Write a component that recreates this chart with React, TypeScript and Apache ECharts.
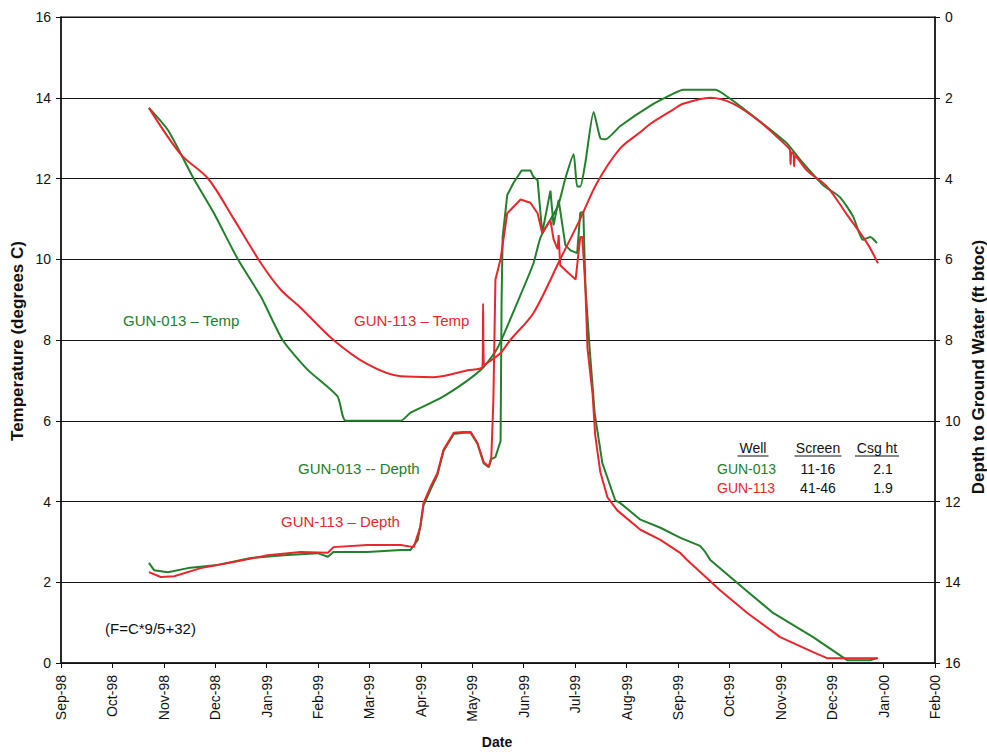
import React, { useEffect, useRef } from "react";
import * as echarts from "echarts";

// Month tick labels (x = month index from Sep-98)
const monthLabels = [
  "Sep-98", "Oct-98", "Nov-98", "Dec-98", "Jan-99", "Feb-99", "Mar-99", "Apr-99", "May-99",
  "Jun-99", "Jul-99", "Aug-99", "Sep-99", "Oct-99", "Nov-99", "Dec-99", "Jan-00", "Feb-00",
];

// [month index, temperature degC]
const gun013Temp = [
  [1.71, 13.75], [2.08, 13.2], [2.58, 12.0], [2.97, 11.15], [3.44, 10.0], [3.89, 9.07], [4.31, 8.0],
  [4.8, 7.26], [5.38, 6.6], [5.54, 6.0], [6.61, 6.0], [6.8, 6.2], [7.38, 6.56], [7.91, 7.0],
  [8.22, 7.33], [8.49, 7.8], [8.9, 9.0], [9.19, 9.9], [9.33, 10.55], [9.66, 11.3], [9.81, 12.0],
  [9.97, 12.6], [10.04, 11.8], [10.1, 11.8], [10.2, 12.4], [10.36, 13.65], [10.49, 13.0],
  [10.59, 12.97], [10.88, 13.3], [11.46, 13.8], [11.91, 14.1], [12.1, 14.2], [12.73, 14.2],
  [12.88, 14.1], [13.15, 13.85], [13.74, 13.27], [14.12, 12.87], [14.38, 12.46], [14.82, 11.84],
  [15.15, 11.54], [15.41, 11.05], [15.6, 10.48], [15.74, 10.55], [15.87, 10.4],
];

const gun113Temp = [
  [1.71, 13.75], [2.33, 12.6], [2.86, 12.0], [3.36, 11.0], [3.89, 9.9], [4.27, 9.25], [4.66, 8.8],
  [5.3, 8.0], [5.96, 7.4], [6.61, 7.1], [7.25, 7.08], [7.91, 7.25], [8.2, 7.35], [8.21, 8.9],
  [8.23, 7.38], [8.55, 7.68], [8.74, 8.0], [9.19, 8.67], [9.71, 10.0], [10.1, 11.0], [10.43, 11.9],
  [10.88, 12.75], [11.27, 13.15], [11.46, 13.35], [11.9, 13.7], [12.1, 13.85], [12.63, 14.0],
  [13.08, 13.85], [13.6, 13.4], [14.12, 12.8], [14.18, 12.7], [14.19, 12.35], [14.21, 12.65],
  [14.25, 12.6], [14.26, 12.3], [14.28, 12.55], [14.51, 12.2], [14.9, 11.8], [15.29, 11.1],
  [15.68, 10.4], [15.89, 9.9],
];

// [month index, depth to ground water ft btoc]
const gun013Depth = [
  [1.71, 13.52], [1.81, 13.7], [2.08, 13.75], [2.47, 13.65], [3.05, 13.57], [3.69, 13.4],
  [4.33, 13.33], [4.99, 13.28], [5.19, 13.37], [5.3, 13.25], [5.96, 13.25], [6.61, 13.2],
  [6.8, 13.2], [6.94, 12.95], [6.99, 12.6], [7.05, 12.1], [7.19, 11.7], [7.32, 11.35],
  [7.44, 10.75], [7.64, 10.33], [7.83, 10.3], [7.97, 10.3], [8.1, 10.57], [8.22, 11.05],
  [8.32, 11.15], [8.37, 10.95], [8.45, 10.9], [8.55, 10.5], [8.57, 7.0], [8.59, 5.45],
  [8.68, 4.41], [8.8, 4.11], [8.96, 3.8], [9.13, 3.8], [9.19, 3.96], [9.27, 4.04], [9.36, 5.35],
  [9.52, 4.3], [9.58, 5.16], [9.68, 4.53], [9.81, 5.65], [9.91, 5.78], [10.04, 5.85],
  [10.1, 4.85], [10.16, 4.83], [10.2, 6.69], [10.28, 8.17], [10.38, 9.81], [10.53, 11.05],
  [10.78, 11.97], [10.88, 12.04], [11.27, 12.45], [11.66, 12.65], [12.05, 12.9], [12.43, 13.1],
  [12.53, 13.25], [12.63, 13.45], [13.27, 14.14], [13.85, 14.76], [14.63, 15.36], [15.29, 15.93],
  [15.74, 15.93], [15.87, 15.88],
];

const gun113Depth = [
  [1.71, 13.75], [1.94, 13.87], [2.2, 13.85], [2.72, 13.65], [3.36, 13.5], [4.02, 13.33],
  [4.66, 13.25], [5.19, 13.27], [5.3, 13.13], [5.96, 13.08], [6.61, 13.08], [6.86, 13.13],
  [6.99, 12.63], [7.05, 12.04], [7.19, 11.63], [7.32, 11.3], [7.44, 10.72], [7.64, 10.3],
  [7.83, 10.28], [7.97, 10.28], [8.1, 10.55], [8.22, 11.02], [8.32, 11.14], [8.37, 10.9],
  [8.41, 9.5], [8.45, 6.5], [8.55, 6.0], [8.68, 4.86], [8.94, 4.52], [9.13, 4.6], [9.27, 4.86],
  [9.36, 5.35], [9.52, 5.03], [9.58, 5.5], [9.66, 5.75], [9.68, 5.4], [9.71, 6.15], [9.87, 6.34],
  [10.01, 6.5], [10.1, 5.45], [10.14, 5.45], [10.2, 6.7], [10.24, 8.2], [10.34, 9.35],
  [10.39, 10.35], [10.49, 11.27], [10.63, 11.9], [10.82, 12.22], [11.27, 12.7], [11.66, 12.95],
  [12.05, 13.28], [12.18, 13.45], [12.82, 14.2], [13.35, 14.76], [13.99, 15.36], [14.63, 15.73],
  [14.9, 15.88], [15.89, 15.88],
];

const tableHeader = ["Well", "Screen", "Csg ht"];
const tableRows = [
  ["GUN-013", "11-16", "2.1"],
  ["GUN-113", "41-46", "1.9"],
];

const GREEN = "#22802c";
const RED = "#e8262c";
const FONT = "Liberation Sans, Arial, sans-serif";

export default function App() {
  const ref = useRef<HTMLDivElement>(null);

  useEffect(() => {
    if (!ref.current) return;
    const chart = echarts.init(ref.current, undefined, { renderer: "svg" });

    const txt = (x: number, y: number, text: string, fill: string, extra: any = {}) => ({
      type: "text",
      x,
      y,
      silent: true,
      style: {
        text,
        fill,
        font: `${extra.weight || "normal"} ${extra.size || 15}px ${FONT}`,
        align: extra.align || "left",
        verticalAlign: "middle",
      },
      rotation: extra.rotation || 0,
    });

    const headerX = [753, 818, 877];
    const rowY = [469, 488];
    const rowColors = [GREEN, RED];

    const graphic: any[] = [
      txt(17, 341, "Temperature (degrees C)", "#111", { weight: "bold", size: 17, align: "center", rotation: Math.PI / 2 }),
      txt(978, 367, "Depth to Ground Water (ft btoc)", "#111", { weight: "bold", size: 17, align: "center", rotation: Math.PI / 2 }),
      txt(497, 742, "Date", "#111", { weight: "bold", size: 14, align: "center" }),
      txt(123, 320, "GUN-013 \u2013 Temp", GREEN),
      txt(354, 320, "GUN-113 \u2013 Temp", RED),
      txt(298, 468, "GUN-013 -- Depth", GREEN),
      txt(281, 521, "GUN-113 \u2013 Depth", RED),
      txt(105, 628, "(F=C*9/5+32)", "#111"),
    ];
    tableHeader.forEach((h, i) => {
      graphic.push(txt(headerX[i], 448, h, "#111", { size: 14, align: "center" }));
    });
    const headerW = [31, 47, 44];
    tableHeader.forEach((h, i) => {
      graphic.push({
        type: "line",
        silent: true,
        shape: { x1: headerX[i] - headerW[i] / 2, y1: 456, x2: headerX[i] + headerW[i] / 2, y2: 456 },
        style: { stroke: "#111", lineWidth: 1 },
      });
    });
    tableRows.forEach((row, r) => {
      graphic.push(txt(717, rowY[r], row[0], rowColors[r], { size: 14 }));
      graphic.push(txt(818, rowY[r], row[1], "#111", { size: 14, align: "center" }));
      graphic.push(txt(883, rowY[r], row[2], "#111", { size: 14, align: "center" }));
    });

    const lineSeries = (name: string, data: number[][], color: string, yAxisIndex: number, smooth: number | boolean) => ({
      name,
      type: "line",
      data,
      yAxisIndex,
      showSymbol: false,
      symbol: "none",
      smooth,
      lineStyle: { color, width: 2 },
      itemStyle: { color },
      z: 3,
    });

    chart.setOption({
      animation: false,
      backgroundColor: "#ffffff",
      textStyle: { fontFamily: FONT },
      grid: { left: 61, right: 52, top: 17, bottom: 91, show: true, borderColor: "#111", borderWidth: 1.2 },
      xAxis: {
        type: "value",
        min: 0,
        max: 17,
        interval: 1,
        axisLine: { show: true, lineStyle: { color: "#111", width: 1.5 } },
        axisTick: { show: true, inside: false, length: 5, lineStyle: { color: "#111" } },
        axisLabel: {
          rotate: 90,
          margin: 12,
          fontSize: 14,
          color: "#111",
          fontFamily: FONT,
          formatter: (v: number) => monthLabels[Math.round(v)] ?? "",
        },
        splitLine: { show: false },
      },
      yAxis: [
        {
          type: "value",
          position: "left",
          min: 0,
          max: 16,
          interval: 2,
          axisLine: { show: true, lineStyle: { color: "#111", width: 1.5 } },
          axisTick: { show: true, inside: false, length: 5, lineStyle: { color: "#111" } },
          axisLabel: { margin: 10, fontSize: 14, color: "#111", fontFamily: FONT },
          splitLine: { show: true, lineStyle: { color: "#111", width: 1.2 } },
        },
        {
          type: "value",
          position: "right",
          inverse: true,
          min: 0,
          max: 16,
          interval: 2,
          axisLine: { show: true, lineStyle: { color: "#111", width: 1.5 } },
          axisTick: { show: true, inside: false, length: 5, lineStyle: { color: "#111" } },
          axisLabel: { margin: 10, fontSize: 14, color: "#111", fontFamily: FONT },
          splitLine: { show: false },
        },
      ],
      series: [
        lineSeries("GUN-013 Temp", gun013Temp, GREEN, 0, 0.2),
        lineSeries("GUN-013 Depth", gun013Depth, GREEN, 1, false),
        lineSeries("GUN-113 Temp", gun113Temp, RED, 0, 0.3),
        lineSeries("GUN-113 Depth", gun113Depth, RED, 1, false),
      ],
      graphic,
    });

    return () => chart.dispose();
  }, []);

  return (
    <div
      ref={ref}
      style={{ position: "fixed", left: 0, top: 0, width: 987, height: 754, background: "#fff" }}
    />
  );
}
